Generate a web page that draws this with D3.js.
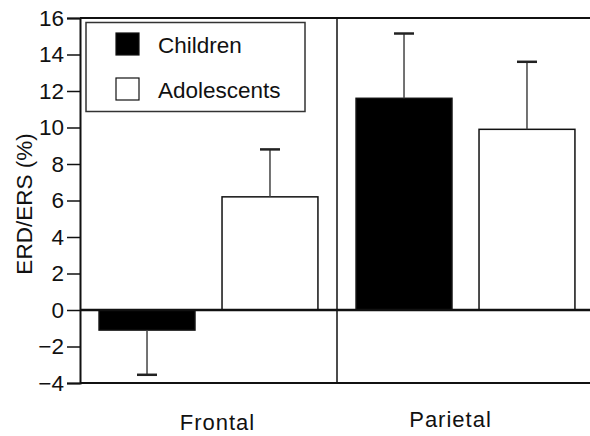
<!DOCTYPE html>
<html>
<head>
<meta charset="utf-8">
<script src="https://cdn.jsdelivr.net/npm/d3@7/dist/d3.min.js"></script>
<style>
  html, body { margin: 0; padding: 0; background: #fff; }
  svg { display: block; font-family: "Liberation Sans", Arial, sans-serif; }
</style>
</head>
<body>
<svg id="chart" width="590" height="436"></svg>
<script>
// Regions and groups
const regions = ["Frontal", "Parietal"];
const groups = ["Children", "Adolescents"];
// Mean ERD/ERS (%) per region
const childrenMean = [-1.1, 11.6];
const adolescentsMean = [6.2, 9.9];
// One-sided error bar lengths
const childrenErr = [2.45, 3.55];
const adolescentsErr = [2.6, 3.7];
const yTicks = [-4, -2, 0, 2, 4, 6, 8, 10, 12, 14, 16];

const fills = { Children: "#000", Adolescents: "#fff" };
const rows = [];
regions.forEach((r, i) => {
  rows.push({ region: r, group: "Children", mean: childrenMean[i], err: childrenErr[i] });
  rows.push({ region: r, group: "Adolescents", mean: adolescentsMean[i], err: adolescentsErr[i] });
});

const svg = d3.select("#chart");
const m = { left: 80, top: 18, right: 594, bottom: 383 };
const FS = 22.5;

const y = d3.scaleLinear().domain([-4, 16]).range([m.bottom, m.top]);
const x0 = d3.scaleBand().domain(regions).range([m.left, m.right]);
const x1 = d3.scaleBand().domain(groups).range([0, x0.bandwidth()])
  .paddingInner(0.22).paddingOuter(0.155);

// frame
const frame = svg.append("g").attr("fill", "none").attr("stroke", "#111").attr("stroke-width", 2);
frame.append("line").attr("x1", m.left).attr("x2", m.right).attr("y1", m.top).attr("y2", m.top);
frame.append("line").attr("x1", m.left).attr("x2", m.right).attr("y1", m.bottom).attr("y2", m.bottom);

// divider between regions
svg.append("line")
  .attr("x1", x0("Parietal")).attr("x2", x0("Parietal"))
  .attr("y1", m.top).attr("y2", m.bottom)
  .attr("stroke", "#111").attr("stroke-width", 1.5);

// bars
const g = svg.append("g");
g.selectAll("rect").data(rows).join("rect")
  .attr("x", d => x0(d.region) + x1(d.group))
  .attr("width", x1.bandwidth())
  .attr("y", d => y(Math.max(0, d.mean)))
  .attr("height", d => Math.abs(y(d.mean) - y(0)))
  .attr("fill", d => fills[d.group])
  .attr("stroke", "#111").attr("stroke-width", 1.5);

// error bars, drawn away from zero
const eb = svg.append("g").attr("stroke", "#444");
rows.forEach(d => {
  const cx = x0(d.region) + x1(d.group) + x1.bandwidth() / 2;
  const tip = d.mean >= 0 ? d.mean + d.err : d.mean - d.err;
  eb.append("line").attr("x1", cx).attr("x2", cx)
    .attr("y1", y(d.mean)).attr("y2", y(tip)).attr("stroke-width", 1.5);
  eb.append("line").attr("x1", cx - 10).attr("x2", cx + 10)
    .attr("y1", y(tip)).attr("y2", y(tip)).attr("stroke-width", 2.5).attr("stroke", "#222");
});

// zero line
svg.append("line")
  .attr("x1", m.left).attr("x2", m.right)
  .attr("y1", y(0)).attr("y2", y(0))
  .attr("stroke", "#111").attr("stroke-width", 2.5);

// y axis
const yAxis = svg.append("g").attr("transform", `translate(${m.left},0)`)
  .call(d3.axisLeft(y).tickValues(yTicks).tickSize(13).tickPadding(3).tickFormat(d3.format("d")));
yAxis.select(".domain").attr("stroke", "#111").attr("stroke-width", 2);
yAxis.selectAll(".tick line").attr("stroke", "#111").attr("stroke-width", 1.5);
yAxis.selectAll(".tick text").attr("font-size", FS).attr("fill", "#111")
  .attr("font-family", "Liberation Sans, Arial, sans-serif");

svg.append("text")
  .attr("transform", `translate(32,204) rotate(-90)`)
  .attr("text-anchor", "middle").attr("font-size", FS).attr("fill", "#111")
  .text("ERD/ERS (%)");

// region labels
const labelShift = { Frontal: 9, Parietal: -15 };
svg.selectAll(".region").data(regions).join("text")
  .attr("class", "region")
  .attr("x", d => x0(d) + x0.bandwidth() / 2 + labelShift[d])
  .attr("y", d => d === "Frontal" ? 430 : 427)
  .attr("text-anchor", "middle").attr("font-size", 22).attr("fill", "#111")
  .attr("letter-spacing", 1)
  .text(d => d);

// legend
const lg = svg.append("g");
lg.append("rect").attr("x", 86).attr("y", 22.5).attr("width", 219).attr("height", 89)
  .attr("fill", "#fff").attr("stroke", "#333").attr("stroke-width", 1.5);
groups.forEach((k, i) => {
  const yy = 33 + i * 45;
  lg.append("rect").attr("x", 116).attr("y", yy).attr("width", 23).attr("height", 22)
    .attr("fill", fills[k]).attr("stroke", "#111").attr("stroke-width", 1.2);
  lg.append("text").attr("x", 158).attr("y", yy + 20).attr("font-size", FS).attr("fill", "#111").text(k);
});
</script>
</body>
</html>
